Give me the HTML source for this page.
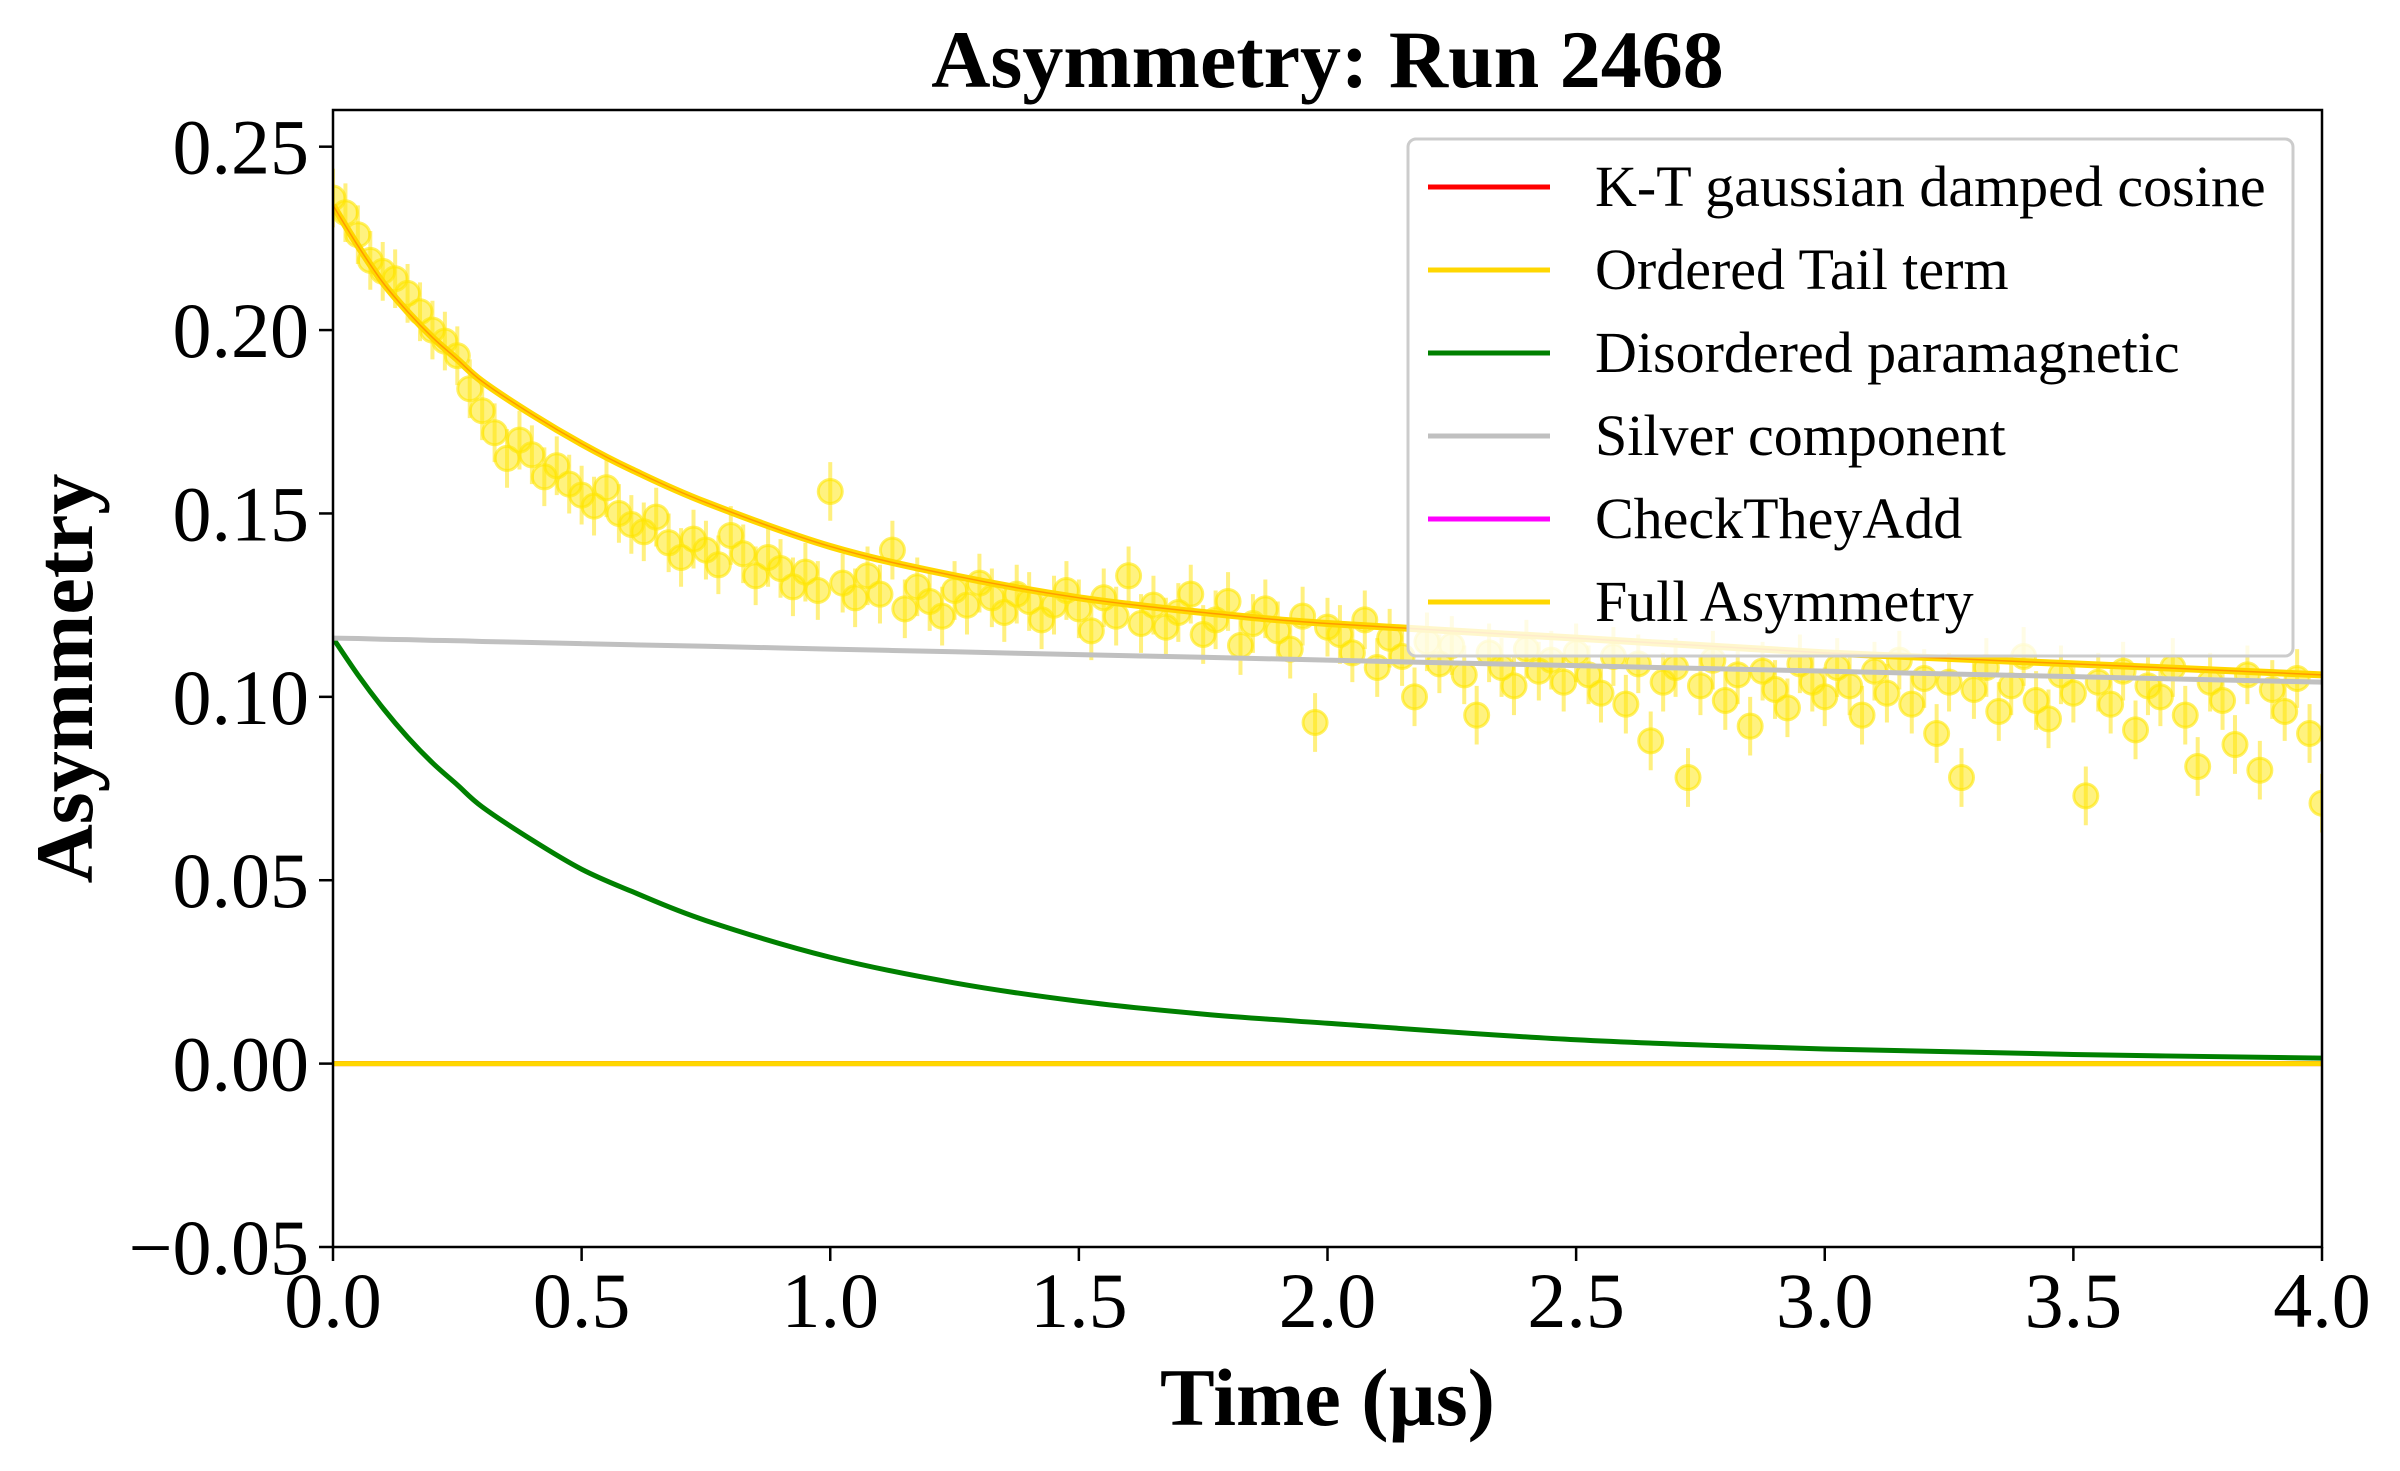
<!DOCTYPE html>
<html><head><meta charset="utf-8">
<style>
html,body{margin:0;padding:0;background:#fff;}
svg{display:block;font-family:"Liberation Serif",serif;}
</style></head>
<body>
<svg id="chart" width="2400" height="1471" viewBox="0 0 2400 1471" xmlns="http://www.w3.org/2000/svg"></svg>
<script>
const dataTimes = [];
for (let i = 0; i <= 160; i++) dataTimes.push(i * 0.025);
const dataValues = [
0.236,0.232,0.226,0.219,0.216,0.214,0.210,0.205,0.200,
0.197,0.193,0.184,0.178,0.172,0.165,0.170,0.166,0.160,0.163,0.158,0.155,
0.152,0.157,0.150,0.147,0.145,0.149,0.142,0.138,0.143,0.140,0.136,0.144,0.139,0.133,0.138,0.135,0.130,0.134,0.129,0.156,
0.131,0.127,0.133,0.128,0.140,0.124,0.130,0.126,0.122,0.129,0.125,0.131,0.127,0.123,0.128,0.126,0.121,0.125,0.129,0.124,
0.118,0.127,0.122,0.133,0.120,0.125,0.119,0.123,0.128,0.117,0.121,0.126,0.114,0.120,0.124,0.118,0.113,0.122,0.093,0.119,
0.117,0.112,0.121,0.108,0.116,0.111,0.100,0.115,0.109,0.114,0.106,0.095,0.112,0.108,0.103,0.113,0.107,0.110,0.104,0.112,
0.106,0.101,0.111,0.098,0.109,0.088,0.104,0.108,0.078,0.103,0.110,0.099,0.106,0.092,0.107,0.102,0.097,0.109,0.104,0.100,
0.108,0.103,0.095,0.107,0.101,0.110,0.098,0.105,0.090,0.104,0.078,0.102,0.108,0.096,0.103,0.111,0.099,0.094,0.106,0.101,
0.073,0.104,0.098,0.107,0.091,0.103,0.100,0.108,0.095,0.081,0.104,0.099,0.087,0.106,0.080,0.102,0.096,0.105,0.090,0.071];
const dataErr = 0.008;
const curveTimes = [0,0.05,0.1,0.15,0.2,0.25,0.3,0.4,0.5,0.6,0.75,1,1.25,1.5,1.75,2,2.5,3,3.5,4];
const greenValues = [0.116,0.106,0.097,0.089,0.082,0.076,0.070,0.061,0.053,0.047,0.039,0.029,0.022,0.017,0.0135,0.011,0.0065,0.004,0.0025,0.0015];
const silverValues = [0.116,0.1159,0.1157,0.1156,0.1154,0.1153,0.1151,0.1148,0.1145,0.1142,0.1138,0.113,0.1123,0.1115,0.1108,0.110,0.1085,0.107,0.1055,0.104];
const fullValues = [0.234,0.223,0.213,0.205,0.198,0.192,0.186,0.177,0.169,0.162,0.153,0.141,0.133,0.127,0.123,0.120,0.116,0.112,0.109,0.106];
const zeroValues = curveTimes.map(()=>0);
const xTicks = [0,0.5,1,1.5,2,2.5,3,3.5,4];
const xTickLabels = ["0.0","0.5","1.0","1.5","2.0","2.5","3.0","3.5","4.0"];
const yTicks = [-0.05,0,0.05,0.10,0.15,0.20,0.25];
const yTickLabels = ["\u22120.05","0.00","0.05","0.10","0.15","0.20","0.25"];
const legendLabels = ["K-T gaussian damped cosine","Ordered Tail term","Disordered paramagnetic","Silver component","CheckTheyAdd","Full Asymmetry"];
const legendColors = ["#ff0000","#ffd700","#008000","#c0c0c0","#ff00ff","#ffd700"];

const L=333,R=2322,T=110,B=1247;
const xMin=0,xMax=4,yMin=-0.05,yMax=0.26;
const X=v=>L+(v-xMin)/(xMax-xMin)*(R-L);
const Y=v=>B-(v-yMin)/(yMax-yMin)*(B-T);
const NS="http://www.w3.org/2000/svg";
const svg=document.getElementById('chart');
function mk(tag,attrs,parent){const e=document.createElementNS(NS,tag);for(const k in attrs)e.setAttribute(k,attrs[k]);(parent||svg).appendChild(e);return e;}

const clip=mk('clipPath',{id:'plotclip'});
mk('rect',{x:L,y:T,width:R-L,height:B-T},clip);

const gPts=mk('g',{'clip-path':'url(#plotclip)'});


dataTimes.forEach((t,i)=>{
  const v=dataValues[i];
  const eb=mk('line',{x1:X(t),x2:X(t),y1:Y(v-dataErr),y2:Y(v+dataErr),stroke:'#ffe100','stroke-opacity':0.5,'stroke-width':4},gPts);
  
  
  const c=mk('circle',{cx:X(t),cy:Y(v),r:12,fill:'#ffe600','fill-opacity':0.5,stroke:'#ffe600','stroke-opacity':0.6,'stroke-width':3},gPts);
  
  
});

function smoothPath(xs,ys){
  const p=xs.map((t,i)=>[X(t),Y(ys[i])]);
  let d=`M${p[0][0]},${p[0][1]}`;
  for(let i=0;i<p.length-1;i++){
    const p0=p[Math.max(i-1,0)],p1=p[i],p2=p[i+1],p3=p[Math.min(i+2,p.length-1)];
    const c1=[p1[0]+(p2[0]-p0[0])/6,p1[1]+(p2[1]-p0[1])/6];
    const c2=[p2[0]-(p3[0]-p1[0])/6,p2[1]-(p3[1]-p1[1])/6];
    d+=` C${c1[0]},${c1[1]} ${c2[0]},${c2[1]} ${p2[0]},${p2[1]}`;
  }
  return d;
}
const gLines=mk('g',{'clip-path':'url(#plotclip)',fill:'none'});
let e;
e=mk('path',{d:smoothPath(curveTimes,zeroValues),stroke:'#ff0000','stroke-width':5},gLines);


e=mk('path',{d:smoothPath(curveTimes,greenValues),stroke:'#008000','stroke-width':5},gLines);


e=mk('path',{d:smoothPath(curveTimes,silverValues),stroke:'#c0c0c0','stroke-width':5},gLines);


e=mk('path',{d:smoothPath(curveTimes,fullValues),stroke:'#ffd700','stroke-width':7},gLines);


e=mk('path',{d:smoothPath(curveTimes,fullValues),stroke:'#ff9a00','stroke-width':1.5},gLines);


e=mk('path',{d:smoothPath(curveTimes,zeroValues),stroke:'#ffd700','stroke-width':5},gLines);



e=mk('rect',{x:L,y:T,width:R-L,height:B-T,fill:'none',stroke:'#000','stroke-width':2.5});



xTicks.forEach((t,i)=>{
  const tk=mk('line',{x1:X(t),x2:X(t),y1:B,y2:B+14,stroke:'#000','stroke-width':2.5});
  
  
  const tx=mk('text',{x:X(t),y:B+80,'text-anchor':'middle','font-size':78});
  tx.textContent=xTickLabels[i];
  
  
});
yTicks.forEach((v,i)=>{
  const tk=mk('line',{x1:L-14,x2:L,y1:Y(v),y2:Y(v),stroke:'#000','stroke-width':2.5});
  
  
  const tx=mk('text',{x:L-24,y:Y(v)+27,'text-anchor':'end','font-size':78});
  tx.textContent=yTickLabels[i];
  
  
});

e=mk('text',{x:(L+R)/2,y:87,'text-anchor':'middle','font-size':82,'font-weight':'bold'});
e.textContent='Asymmetry: Run 2468';


e=mk('text',{x:(L+R)/2,y:1425,'text-anchor':'middle','font-size':82,'font-weight':'bold'});
e.textContent='Time (\u00b5s)';


e=mk('text',{x:0,y:0,'text-anchor':'middle','font-size':82,'font-weight':'bold',transform:`translate(92,${(T+B)/2}) rotate(-90)`});
e.textContent='Asymmetry';



const gLeg=mk('g',{});


mk('rect',{x:1408,y:139,width:885,height:517,rx:8,fill:'#fff','fill-opacity':0.8,stroke:'#cccccc','stroke-width':3},gLeg);
legendLabels.forEach((lab,i)=>{
  const y=187+i*83;
  const ln=mk('line',{x1:1428,x2:1550,y1:y,y2:y,stroke:legendColors[i],'stroke-width':5},gLeg);
  
  
  const tx=mk('text',{x:1595,y:y+19,'font-size':58},gLeg);
  tx.textContent=lab;
  
  
});
</script>
</body></html>
